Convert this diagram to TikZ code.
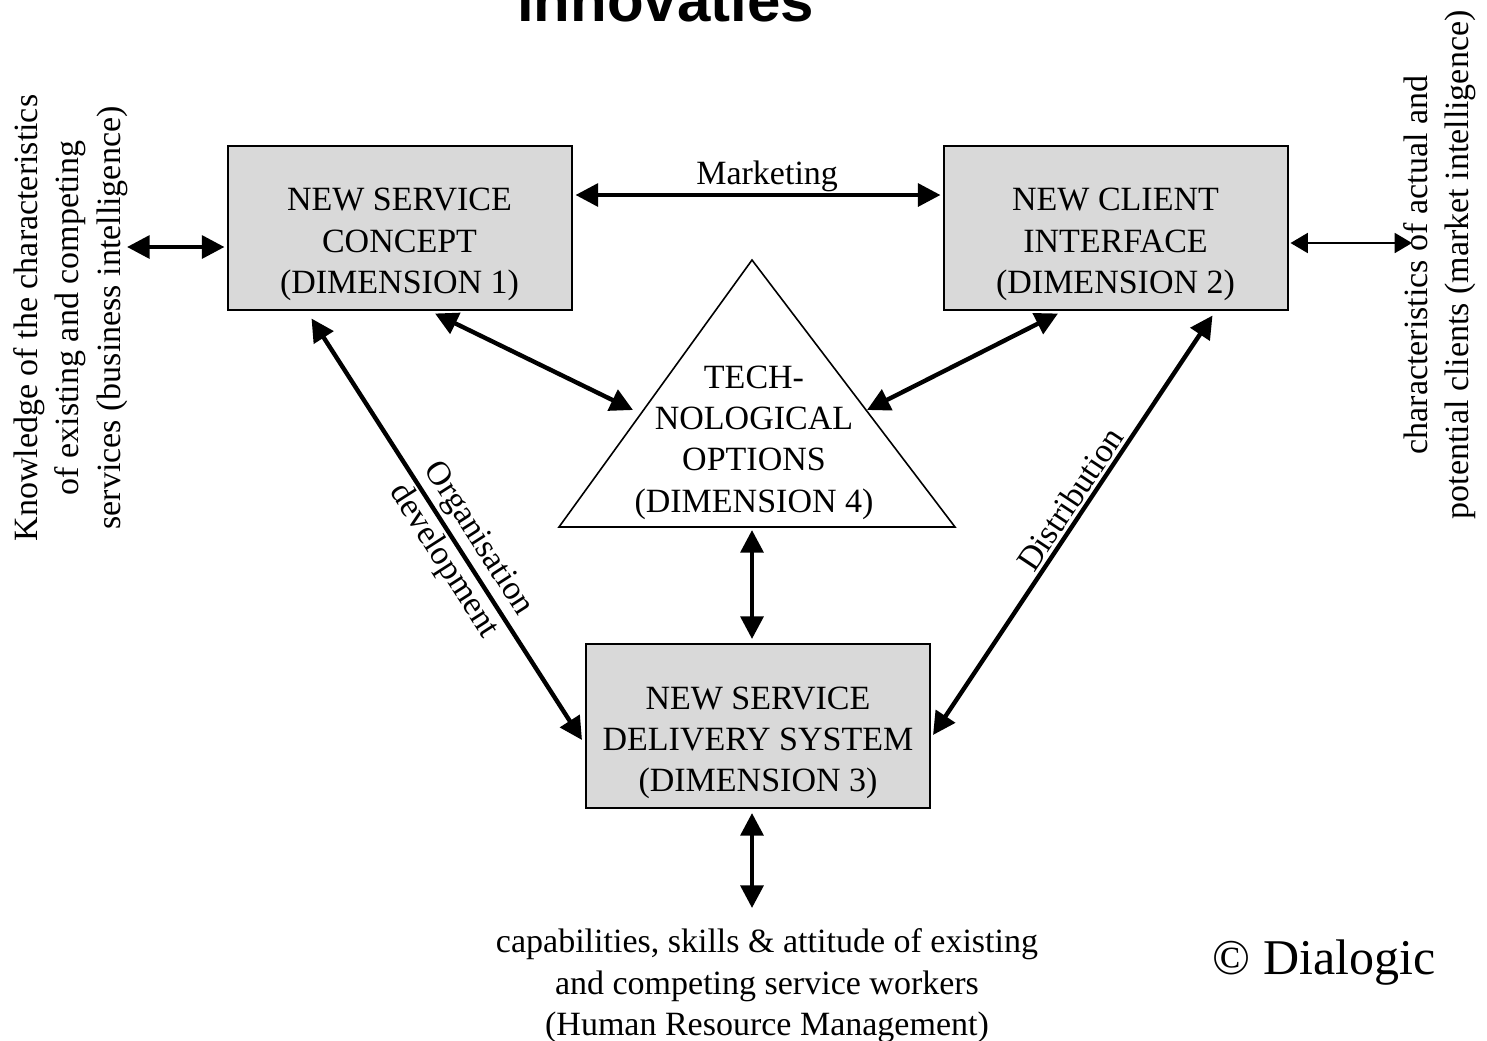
\documentclass[tikz,border=0pt]{standalone}
\usepackage{fontspec}
\setmainfont{Liberation Serif}
\newfontfamily\headfont{Liberation Sans}
\usepackage{tikz}
\usetikzlibrary{shapes,arrows.meta,calc,positioning}
\definecolor{boxgray}{RGB}{217,217,217}
\tikzstyle{dimbox}=[rectangle, draw=black, line width=1.5pt, fill=boxgray, minimum width=258pt, minimum height=123pt, inner sep=0pt]
\tikzstyle{dimtext}=[align=center, inner sep=0pt, font=\fontsize{25.5pt}{31pt}\selectfont]
\tikzstyle{sidetext}=[align=center, inner sep=0pt, rotate=90, font=\fontsize{25.5pt}{31pt}\selectfont]
\tikzstyle{link}=[{Triangle[length=17pt,width=17pt]}-{Triangle[length=17pt,width=17pt]}, line width=3.3pt]
\tikzstyle{thinlink}=[{Triangle[length=13pt,width=15pt]}-{Triangle[length=13pt,width=15pt]}, line width=1.4pt]
\tikzstyle{headline}=[anchor=base, inner sep=0pt, font=\headfont\bfseries\fontsize{45pt}{54pt}\selectfont]

\begin{document}
\begin{tikzpicture}[x=0.75pt,y=-0.75pt]
\useasboundingbox (0,0) rectangle (1487,1040);
\clip (0,0) rectangle (1487,1040);
%Title
\node[headline] (ttl) at (665.5,21){innovaties};

%Boxes
\node[dimbox] (nsc) at (399.5,227.5){};
\node[dimtext] (nsctxt) at (399.5,244.5){NEW SERVICE\\CONCEPT\\(DIMENSION 1)};
\node[dimbox] (nci) at (1115.5,227.5){};
\node[dimtext] (ncitxt) at (1115.5,244.5){NEW CLIENT\\INTERFACE\\(DIMENSION 2)};
\node[dimbox] (nst) at (758,726){};
\node[dimtext] (nsttxt) at (758,743){NEW SERVICE\\DELIVERY SYSTEM\\(DIMENSION 3)};

%Triangle
\coordinate (ttop) at (752,260);
\coordinate (tleft) at (559,527);
\coordinate (tright) at (955,527);
\draw[line width=1.2pt, line join=miter] (ttop) -- (tright) -- (tleft) -- cycle;
\node[dimtext] (techtxt) at (754,442.5){TECH-\\NOLOGICAL\\OPTIONS\\(DIMENSION 4)};

%Outside texts
\node[sidetext] (bitxt) at (70.5,318){Knowledge of the characteristics\\of existing and competing\\services (business intelligence)};
\node[sidetext] (mitxt) at (1440,265){characteristics of actual and\\potential clients (market intelligence)};
\node[dimtext] (hrmtxt) at (767,986){capabilities, skills \& attitude of existing\\and competing service workers\\(Human Resource Management)};
\node[inner sep=0pt, font=\fontsize{37.5pt}{45pt}\selectfont] (dlg) at (1324,963){© Dialogic};
\coordinate (bi) at (127,247);
\coordinate (mi) at (1412,243);
\coordinate (hrm) at (752,908);

%Arrows
\draw[link] ($(nsc.east)+(3,-32.5)$) -- node[pos=0.525, above=1pt, dimtext] (mkt){Marketing} ($(nci.west)+(-2,-32.5)$);
\draw[link] (bi) -- ($(nsc.west)+(-2,19.5)$);
\draw[thinlink] ($(nci.east)+(2,15.5)$) -- (mi);
\draw[link] ($(nsc.south)+(35.5,3)$) -- ($(ttop)+(-119,150)$);
\draw[link] ($(nci.south)+(-57.5,3)$) -- ($(ttop)+(115,150)$);
\draw[link] ($(ttop)+(0,270)$) -- ($(nst.north)+(-6,-4)$);
\draw[link] ($(nst.south)+(-6,4)$) -- (hrm);
\draw[link] ($(nsc.south west)+(85,8)$) -- node[pos=0.55, sloped, dimtext] (org){Organisation\\development} ($(nst.west)+(-3,14)$);
\draw[link] ($(nci.south east)+(-76,5)$) -- node[pos=0.46, sloped, above=2pt, dimtext] (dst){Distribution} ($(nst.east)+(2,9)$);
\end{tikzpicture}
\end{document}
